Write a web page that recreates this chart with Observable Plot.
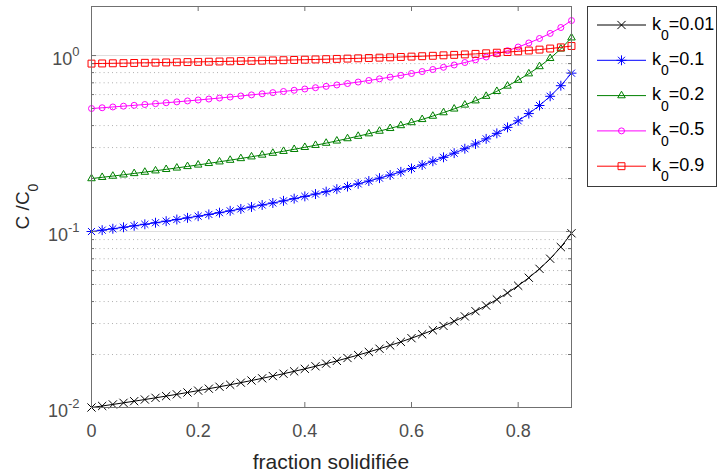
<!DOCTYPE html>
<html><head><meta charset="utf-8">
<script src="https://cdn.jsdelivr.net/npm/d3@7"></script>
<script src="https://cdn.jsdelivr.net/npm/@observablehq/plot@0.6"></script>
<style>
html,body{margin:0;padding:0;background:#fff;}
#chart{position:relative;width:718px;height:473px;}
#chart svg{font-family:"Liberation Sans",Arial,Helvetica,sans-serif;}
</style></head><body><div id="chart"></div>
<script>
// ---- data ----
const fraction = [0,0.02,0.04,0.06,0.08,0.1,0.12,0.14,0.16,0.18,0.2,0.22,0.24,0.26,0.28,0.3,0.32,0.34,0.36,0.38,0.4,0.42,0.44,0.46,0.48,0.5,0.52,0.54,0.56,0.58,0.6,0.62,0.64,0.66,0.68,0.7,0.72,0.74,0.76,0.78,0.8,0.82,0.84,0.86,0.88,0.9];
const c_k001 = [0.01000,0.01020,0.01041,0.01063,0.01086,0.01110,0.01135,0.01161,0.01188,0.01217,0.01247,0.01279,0.01312,0.01347,0.01384,0.01423,0.01465,0.01509,0.01556,0.01605,0.01658,0.01715,0.01775,0.01840,0.01911,0.01986,0.02068,0.02157,0.02254,0.02360,0.02477,0.02606,0.02749,0.02909,0.03089,0.03293,0.03526,0.03795,0.04108,0.04477,0.04920,0.05461,0.06137,0.07004,0.08159,0.09772];
const c_k01 = [0.1000,0.1018,0.1037,0.1057,0.1078,0.1099,0.1122,0.1145,0.1170,0.1196,0.1222,0.1251,0.1280,0.1311,0.1344,0.1379,0.1415,0.1453,0.1494,0.1538,0.1584,0.1633,0.1685,0.1741,0.1801,0.1866,0.1936,0.2011,0.2094,0.2183,0.2281,0.2389,0.2508,0.2640,0.2788,0.2955,0.3145,0.3361,0.3613,0.3907,0.4257,0.4680,0.5203,0.5868,0.6741,0.7943];
const c_k02 = [0.2000,0.2033,0.2066,0.2101,0.2138,0.2176,0.2215,0.2256,0.2299,0.2344,0.2391,0.2440,0.2491,0.2545,0.2601,0.2660,0.2723,0.2789,0.2858,0.2932,0.3010,0.3092,0.3180,0.3274,0.3375,0.3482,0.3598,0.3722,0.3857,0.4003,0.4163,0.4337,0.4529,0.4741,0.4976,0.5240,0.5537,0.5876,0.6264,0.6716,0.7248,0.7885,0.8664,0.9641,1.091,1.262];
const c_k05 = [0.5000,0.5051,0.5103,0.5157,0.5213,0.5270,0.5330,0.5392,0.5455,0.5522,0.5590,0.5661,0.5735,0.5812,0.5893,0.5976,0.6063,0.6155,0.6250,0.6350,0.6455,0.6565,0.6682,0.6804,0.6934,0.7071,0.7217,0.7372,0.7538,0.7715,0.7906,0.8111,0.8333,0.8575,0.8839,0.9129,0.9449,0.9806,1.021,1.066,1.118,1.179,1.250,1.336,1.443,1.581];
const c_k09 = [0.9000,0.9018,0.9037,0.9056,0.9075,0.9095,0.9116,0.9137,0.9158,0.9180,0.9203,0.9226,0.9250,0.9275,0.9301,0.9327,0.9354,0.9382,0.9411,0.9441,0.9472,0.9504,0.9537,0.9572,0.9608,0.9646,0.9685,0.9727,0.9770,0.9816,0.9864,0.9914,0.9968,1.003,1.009,1.015,1.022,1.030,1.038,1.047,1.057,1.068,1.081,1.096,1.113,1.133];
const seriesKeys = ["0.01","0.1","0.2","0.5","0.9"];
const xTicks = [0, 0.2, 0.4, 0.6, 0.8];
const yMajorTicks = [0.01, 0.1, 1];
const yMinorTicks = [0.02,0.03,0.04,0.05,0.06,0.07,0.08,0.09,0.2,0.3,0.4,0.5,0.6,0.7,0.8,0.9];
const xLabel = "fraction solidifiée";

// ---- styles ----
const seriesValues = [c_k001, c_k01, c_k02, c_k05, c_k09];
const styles = [
  {color: "#000000", symbols: [["times", 3.8]]},
  {color: "#0000ff", symbols: [["plus", 3.3], ["times", 3.3]]},
  {color: "#008000", symbols: [["triangle2", 3.6]]},
  {color: "#ff00ff", symbols: [["circle", 3]]},
  {color: "#ff0000", symbols: [["square", 3.9]]}
];
const d3sym = {times: d3.symbolTimes, plus: d3.symbolPlus, triangle2: d3.symbolTriangle2, circle: d3.symbolCircle, square: d3.symbolSquare};

const W = 718, H = 473, mL = 91, mR = 147, mT = 6, mB = 66;
const innerW = W - mL - mR, innerH = H - mT - mB;
const axisColor = "#707070";
const tickTextColor = "#4d4d4d";

const series = seriesKeys.map((k, s) => fraction.map((f, i) => ({f, c: seriesValues[s][i], k})));

const marks = [
  Plot.ruleY(yMinorTicks, {y: d => d, stroke: "#b0b0b0", strokeDasharray: "1,3.2", strokeWidth: 1}),
  Plot.ruleY(yMajorTicks, {y: d => d, stroke: "#dedede", strokeWidth: 1})
];
series.forEach((rows, s) => {
  const st = styles[s];
  marks.push(Plot.line(rows, {x: "f", y: "c", stroke: st.color, strokeWidth: 1}));
  st.symbols.forEach(([sym, r]) => {
    marks.push(Plot.dot(rows, {x: "f", y: "c", symbol: sym, r, stroke: st.color, fill: "none", strokeWidth: 1}));
  });
});
marks.push(
  Plot.frame({stroke: axisColor, strokeWidth: 1}),
  Plot.tickX(xTicks.filter(d => d > 0), {x: d => d, insetTop: innerH - 5, stroke: axisColor}),
  Plot.tickX(xTicks.filter(d => d > 0), {x: d => d, insetBottom: innerH - 5, stroke: axisColor}),
  Plot.tickY(yMajorTicks, {y: d => d, insetRight: innerW - 5, stroke: axisColor}),
  Plot.tickY(yMajorTicks, {y: d => d, insetLeft: innerW - 5, stroke: axisColor}),
  Plot.tickY(yMinorTicks, {y: d => d, insetRight: innerW - 3, stroke: axisColor}),
  Plot.tickY(yMinorTicks, {y: d => d, insetLeft: innerW - 3, stroke: axisColor}),
  Plot.axisX(xTicks, {tickSize: 0, tickPadding: 17, tickFormat: d => d === 0 ? "0" : String(d), fontSize: 18, fill: tickTextColor, label: null}),
  Plot.axisY(yMajorTicks, {tickSize: 0, tickPadding: 12, dy: 4, tickFormat: d => "10^" + Math.round(Math.log10(d)), fontSize: 18, fill: tickTextColor, label: null})
);

const chart = Plot.plot({
  width: W, height: H,
  marginLeft: mL, marginRight: mR, marginTop: mT, marginBottom: mB,
  style: {background: "#fff", fontFamily: "'Liberation Sans', Arial, Helvetica, sans-serif"},
  x: {domain: [0, 0.9]},
  y: {type: "log", domain: [0.01, 1.9]},
  marks
});
document.getElementById("chart").appendChild(chart);

const svg = d3.select(chart);
// superscripts for the log tick labels
svg.selectAll('g[aria-label="y-axis tick label"] text').each(function() {
  const t = this.textContent;
  const m = /^10\^(-?\d+)$/.exec(t);
  if (!m) return;
  const el = d3.select(this);
  el.text(null);
  el.append("tspan").text("10");
  el.append("tspan").attr("dy", -9).attr("font-size", 13).text(m[1]);
});

// axis titles
svg.append("text")
  .attr("x", mL + innerW / 2).attr("y", 469)
  .attr("text-anchor", "middle").attr("font-size", 21).attr("fill", "#262626")
  .text(xLabel);
const yl = svg.append("text")
  .attr("transform", `translate(28.5,${mT + innerH / 2}) rotate(-90)`)
  .attr("text-anchor", "middle").attr("font-size", 19).attr("fill", "#262626");
yl.append("tspan").text("C /C");
yl.append("tspan").attr("dy", 9).attr("font-size", 14).text("0");

// legend
const lg = svg.append("g");
lg.append("rect").attr("x", 587.5).attr("y", 6.5).attr("width", 129).attr("height", 180)
  .attr("fill", "#fff").attr("stroke", "#3a3a3a").attr("stroke-width", 1);
seriesKeys.forEach((k, s) => {
  const st = styles[s];
  const cy = 25 + s * 35.3;
  lg.append("line").attr("x1", 597).attr("x2", 646).attr("y1", cy).attr("y2", cy)
    .attr("stroke", st.color).attr("stroke-width", 1);
  st.symbols.forEach(([sym, r]) => {
    lg.append("path").attr("transform", `translate(621.5,${cy})`)
      .attr("d", d3.symbol(d3sym[sym], Math.PI * r * r)())
      .attr("fill", "none").attr("stroke", st.color).attr("stroke-width", 1);
  });
  const t = lg.append("text").attr("x", 652).attr("y", cy + 4.5).attr("font-size", 18)
    .attr("fill", "#000").attr("text-anchor", "start");
  t.append("tspan").text("k");
  t.append("tspan").attr("dy", 10.5).attr("font-size", 14).text("0");
  t.append("tspan").attr("dy", -10.5).text("=" + k);
});
</script>
</body></html>
